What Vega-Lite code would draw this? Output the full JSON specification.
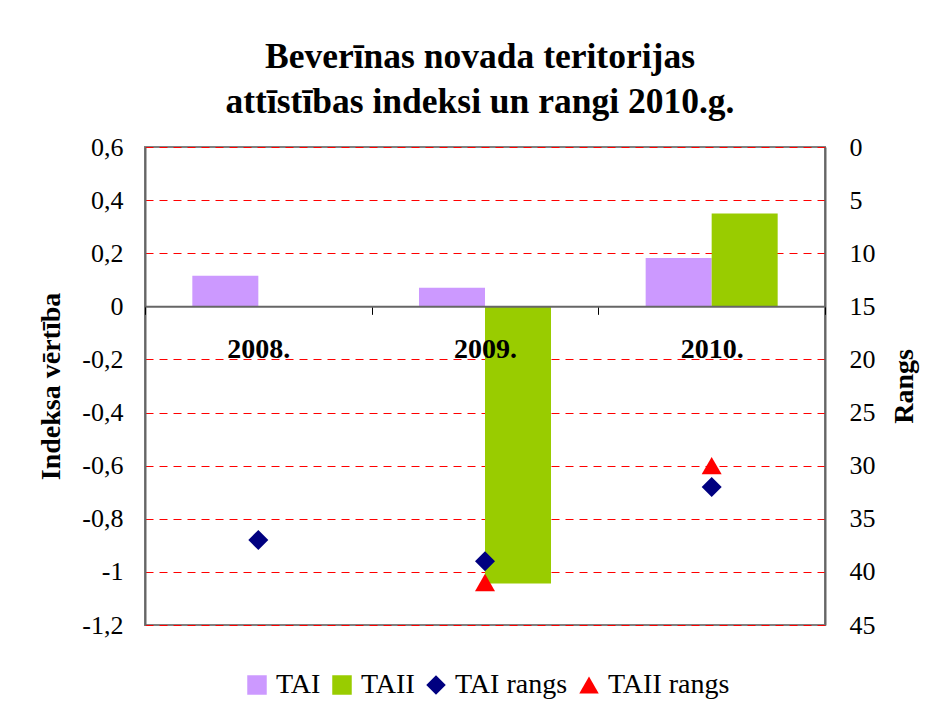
{
  "$schema": "https://vega.github.io/schema/vega-lite/v6.json",
  "width": 680,
  "height": 478,
  "autosize": {"type": "none"},
  "padding": {"left": 145, "top": 147, "right": 108, "bottom": 77},
  "background": "white",
  "config": {
    "view": {"stroke": "#808080", "strokeWidth": 2},
    "font": "Liberation Serif",
    "axis": {"labelFont": "Liberation Serif", "titleFont": "Liberation Serif"},
    "legend": {"labelFont": "Liberation Serif", "titleFont": "Liberation Serif"}
  },
  "title": {
    "text": ["Beverīnas novada teritorijas", "attīstības indeksi un rangi 2010.g."],
    "fontSize": 35.5,
    "font": "Liberation Serif",
    "fontWeight": "bold",
    "lineHeight": 45,
    "anchor": "middle",
    "offset": 14,
    "dx": -5,
    "color": "black"
  },
  "datasets": {
    "bars": [
      {"year": "2008.", "series": "TAI", "value": 0.115},
      {"year": "2009.", "series": "TAI", "value": 0.07},
      {"year": "2010.", "series": "TAI", "value": 0.182},
      {"year": "2009.", "series": "TAII", "value": -1.044},
      {"year": "2010.", "series": "TAII", "value": 0.35}
    ],
    "ranks": [
      {"year": "2008.", "series": "TAI rangs", "rank": 37},
      {"year": "2009.", "series": "TAI rangs", "rank": 39},
      {"year": "2009.", "series": "TAII rangs", "rank": 41},
      {"year": "2010.", "series": "TAI rangs", "rank": 32},
      {"year": "2010.", "series": "TAII rangs", "rank": 30}
    ]
  },
  "layer": [
    {
      "data": {"name": "bars"},
      "mark": {"type": "bar"},
      "encoding": {
        "x": {
          "field": "year",
          "type": "nominal",
          "scale": {"domain": ["2008.", "2009.", "2010."], "paddingInner": 0, "paddingOuter": 0},
          "axis": {
            "orient": "bottom",
            "offset": -318.67,
            "zindex": 1,
            "title": null,
            "labelAngle": 0,
            "labelFont": "Liberation Serif",
            "labelFontSize": 28,
            "labelFontWeight": "bold",
            "labelColor": "black",
            "labelPadding": 21,
            "tickBand": "extent",
            "ticks": true,
            "tickSize": 8,
            "tickColor": "black",
            "domainColor": "#666666",
            "domainWidth": 2
          }
        },
        "xOffset": {
          "field": "series",
          "type": "nominal",
          "scale": {"domain": ["TAI", "TAII"], "paddingInner": 0, "paddingOuter": 0.717}
        },
        "y": {
          "field": "value",
          "type": "quantitative",
          "scale": {"domain": [-1.2, 0.6], "nice": false},
          "axis": {
            "title": "Indeksa vērtība",
            "titleFont": "Liberation Serif",
            "titleFontSize": 28,
            "titleFontWeight": "bold",
            "titleColor": "black",
            "titlePadding": 16,
            "values": [-1.2, -1, -0.8, -0.6, -0.4, -0.2, 0, 0.2, 0.4, 0.6],
            "labelExpr": "replace('' + datum.value, '.', ',')",
            "labelFont": "Liberation Serif",
            "labelFontSize": 26,
            "labelColor": "black",
            "labelPadding": 22,
            "ticks": false,
            "domainColor": "#666666",
            "domainWidth": 2,
            "grid": true,
            "gridColor": "#ff0000",
            "gridDash": [8, 6],
            "gridWidth": 1
          }
        },
        "color": {
          "field": "series",
          "type": "nominal",
          "scale": {
            "domain": ["TAI", "TAII", "TAI rangs", "TAII rangs"],
            "range": ["#cc99ff", "#99cc00", "#000080", "#ff0000"]
          },
          "legend": {
            "title": null,
            "orient": "none",
            "legendX": 98,
            "legendY": 524,
            "direction": "horizontal",
            "labelFont": "Liberation Serif",
            "labelFontSize": 28,
            "labelColor": "black",
            "symbolSize": 380,
            "labelOffset": 5,
            "columnPadding": 7,
            "symbolStrokeWidth": 0,
            "symbolOpacity": 1
          }
        }
      }
    },
    {
      "data": {"name": "ranks"},
      "mark": {"type": "point", "filled": true, "size": 400, "opacity": 1},
      "encoding": {
        "x": {"field": "year", "type": "nominal"},
        "y": {
          "field": "rank",
          "type": "quantitative",
          "scale": {"domain": [0, 45], "reverse": true, "nice": false},
          "axis": {
            "orient": "right",
            "title": "Rangs",
            "titleFont": "Liberation Serif",
            "titleAngle": -90,
            "titleBaseline": "top",
            "titleFontSize": 28,
            "titleFontWeight": "bold",
            "titleColor": "black",
            "titlePadding": 15,
            "values": [0, 5, 10, 15, 20, 25, 30, 35, 40, 45],
            "labelFont": "Liberation Serif",
            "labelFontSize": 26,
            "labelColor": "black",
            "labelPadding": 24,
            "ticks": false,
            "grid": false,
            "domainColor": "#666666",
            "domainWidth": 2
          }
        },
        "color": {
          "field": "series",
          "type": "nominal",
          "legend": {
            "title": null,
            "orient": "none",
            "legendX": 98,
            "legendY": 524,
            "direction": "horizontal",
            "labelFont": "Liberation Serif",
            "labelFontSize": 28,
            "labelColor": "black",
            "symbolSize": 380,
            "labelOffset": 5,
            "columnPadding": 7,
            "symbolStrokeWidth": 0,
            "symbolOpacity": 1
          }
        },
        "shape": {
          "field": "series",
          "type": "nominal",
          "scale": {
            "domain": ["TAI", "TAII", "TAI rangs", "TAII rangs"],
            "range": ["square", "square", "diamond", "triangle-up"]
          },
          "legend": {
            "title": null,
            "orient": "none",
            "legendX": 98,
            "legendY": 524,
            "direction": "horizontal",
            "labelFont": "Liberation Serif",
            "labelFontSize": 28,
            "labelColor": "black",
            "symbolSize": 380,
            "labelOffset": 5,
            "columnPadding": 7,
            "symbolStrokeWidth": 0,
            "symbolOpacity": 1
          }
        }
      }
    }
  ],
  "resolve": {"scale": {"y": "independent"}}
}
